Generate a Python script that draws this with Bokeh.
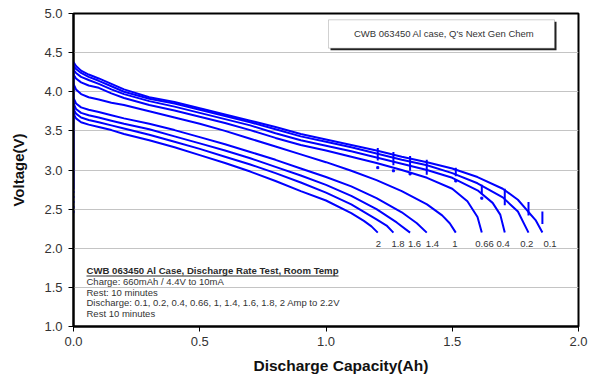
from bokeh.plotting import figure
from bokeh.models import (Range1d, FixedTicker, PrintfTickFormatter, Legend, LegendItem,
                          Label, BoxAnnotation, ColumnDataSource, Title)
from bokeh.core.properties import value
from bokeh.embed import file_html
from bokeh.resources import INLINE

# ---------------- data ----------------
rates = ["0.1", "0.2", "0.4", "0.66", "1", "1.4", "1.6", "1.8", "2"]

cap_01 = [0, 0.01, 0.03, 0.06, 0.1, 0.15, 0.2, 0.3, 0.4, 0.5, 0.6, 0.7, 0.8, 0.9, 1.0, 1.1, 1.2, 1.3, 1.4, 1.5, 1.6, 1.7, 1.76, 1.8, 1.83, 1.857]
volt_01 = [4.38, 4.33, 4.27, 4.22, 4.17, 4.10, 4.03, 3.93, 3.87, 3.79, 3.71, 3.63, 3.55, 3.46, 3.39, 3.32, 3.25, 3.17, 3.10, 3.02, 2.91, 2.76, 2.62, 2.47, 2.36, 2.20]

cap_02 = [0, 0.01, 0.03, 0.06, 0.1, 0.15, 0.2, 0.3, 0.4, 0.5, 0.6, 0.7, 0.8, 0.9, 1.0, 1.1, 1.2, 1.3, 1.4, 1.5, 1.6, 1.7, 1.76, 1.802]
volt_02 = [4.33, 4.29, 4.24, 4.19, 4.14, 4.07, 4.00, 3.91, 3.85, 3.77, 3.69, 3.61, 3.52, 3.43, 3.36, 3.29, 3.21, 3.13, 3.06, 2.96, 2.83, 2.65, 2.47, 2.20]

cap_04 = [0, 0.01, 0.03, 0.06, 0.1, 0.15, 0.2, 0.3, 0.4, 0.5, 0.6, 0.7, 0.8, 0.9, 1.0, 1.1, 1.2, 1.3, 1.4, 1.5, 1.6, 1.66, 1.69, 1.708]
volt_04 = [4.28, 4.24, 4.19, 4.15, 4.10, 4.03, 3.97, 3.88, 3.81, 3.73, 3.65, 3.57, 3.47, 3.38, 3.31, 3.24, 3.16, 3.08, 3.00, 2.90, 2.74, 2.58, 2.43, 2.20]

cap_066 = [0, 0.01, 0.03, 0.06, 0.1, 0.15, 0.2, 0.3, 0.4, 0.5, 0.6, 0.7, 0.8, 0.9, 1.0, 1.1, 1.2, 1.3, 1.4, 1.5, 1.56, 1.6, 1.617]
volt_066 = [4.22, 4.17, 4.12, 4.08, 4.05, 3.98, 3.92, 3.83, 3.76, 3.68, 3.60, 3.51, 3.41, 3.32, 3.25, 3.17, 3.09, 3.00, 2.90, 2.76, 2.60, 2.40, 2.20]

cap_1 = [0, 0.01, 0.03, 0.06, 0.1, 0.15, 0.2, 0.3, 0.4, 0.5, 0.6, 0.7, 0.8, 0.9, 1.0, 1.1, 1.2, 1.3, 1.4, 1.46, 1.49, 1.514]
volt_1 = [4.10, 4.03, 3.97, 3.93, 3.90, 3.86, 3.83, 3.75, 3.67, 3.59, 3.50, 3.40, 3.30, 3.20, 3.10, 2.99, 2.87, 2.73, 2.56, 2.42, 2.32, 2.20]

cap_14 = [0, 0.01, 0.03, 0.06, 0.1, 0.15, 0.2, 0.3, 0.4, 0.5, 0.6, 0.7, 0.8, 0.9, 1.0, 1.1, 1.2, 1.3, 1.36, 1.399]
volt_14 = [3.92, 3.85, 3.80, 3.77, 3.74, 3.70, 3.66, 3.59, 3.51, 3.42, 3.33, 3.23, 3.13, 3.02, 2.91, 2.79, 2.64, 2.46, 2.32, 2.20]

cap_16 = [0, 0.01, 0.03, 0.06, 0.1, 0.15, 0.2, 0.3, 0.4, 0.5, 0.6, 0.7, 0.8, 0.9, 1.0, 1.1, 1.2, 1.28, 1.333]
volt_16 = [3.85, 3.78, 3.73, 3.70, 3.67, 3.63, 3.59, 3.52, 3.43, 3.34, 3.25, 3.15, 3.04, 2.93, 2.81, 2.67, 2.50, 2.33, 2.20]

cap_18 = [0, 0.01, 0.03, 0.06, 0.1, 0.15, 0.2, 0.3, 0.4, 0.5, 0.6, 0.7, 0.8, 0.9, 1.0, 1.1, 1.2, 1.24, 1.267]
volt_18 = [3.78, 3.72, 3.67, 3.64, 3.61, 3.57, 3.53, 3.45, 3.36, 3.27, 3.17, 3.07, 2.96, 2.84, 2.71, 2.56, 2.37, 2.29, 2.20]

cap_2 = [0, 0.01, 0.03, 0.06, 0.1, 0.15, 0.2, 0.3, 0.4, 0.5, 0.6, 0.7, 0.8, 0.9, 1.0, 1.1, 1.15, 1.18, 1.205]
volt_2 = [3.72, 3.66, 3.61, 3.58, 3.55, 3.51, 3.46, 3.38, 3.29, 3.19, 3.09, 2.98, 2.86, 2.73, 2.61, 2.45, 2.35, 2.28, 2.20]

caps = [cap_01, cap_02, cap_04, cap_066, cap_1, cap_14, cap_16, cap_18, cap_2]
volts = [volt_01, volt_02, volt_04, volt_066, volt_1, volt_14, volt_16, volt_18, volt_2]

# end-of-discharge capacity and rest (recovery) voltage span
end_cap = [1.857, 1.802, 1.708, 1.617, 1.514, 1.399, 1.333, 1.267, 1.205]
rest_lo = [2.31, 2.42, 2.55, 2.69, 2.92, 2.94, 2.99, 3.06, 3.12]
rest_hi = [2.47, 2.59, 2.76, 2.81, 3.03, 3.13, 3.18, 3.23, 3.28]
dot_cap = [1.617, 1.514, 1.333, 1.267, 1.205]
dot_volt = [2.64, 2.86, 2.95, 2.99, 3.03]

# initial rest at zero capacity
start_cap = [0.0]
start_lo = [2.75]
start_hi = [4.38]

x_ticks = [0.0, 0.5, 1.0, 1.5, 2.0]
y_ticks = [1.0, 1.5, 2.0, 2.5, 3.0, 3.5, 4.0, 4.5, 5.0]

x_title = "Discharge Capacity(Ah)"
y_title = "Voltage(V)"
legend_label = "CWB 063450 Al case, Q's Next Gen Chem"
note_title = "CWB 063450 Al Case, Discharge Rate Test, Room Temp"
note_lines = ["Charge: 660mAh / 4.4V to 10mA",
              "Rest: 10 minutes",
              "Discharge: 0.1, 0.2, 0.4, 0.66, 1, 1.4, 1.6, 1.8, 2 Amp to 2.2V",
              "Rest 10 minutes"]

# ---------------- style ----------------
BLUE = "#0000ff"
FONT = "Liberation Sans"
TXT = "#333333"
rate_label_y = 2.055
rate_label_dx = [7.6, -1.7, -1.7, 2.7, -1.0, 5.7, 4.4, 4.6, 0.7]

p = figure(width=592, height=383, x_range=Range1d(0, 2), y_range=Range1d(1, 5),
           output_backend="svg", toolbar_location=None,
           min_border_left=73, min_border_right=14, min_border_top=13, min_border_bottom=57)
p.background_fill_color = "white"
p.border_fill_color = "white"
p.outline_line_color = "black"
p.outline_line_width = 2

p.xaxis.ticker = FixedTicker(ticks=x_ticks)
p.yaxis.ticker = FixedTicker(ticks=y_ticks)
p.xaxis.formatter = PrintfTickFormatter(format="%.1f")
p.yaxis.formatter = PrintfTickFormatter(format="%.1f")
for ax in (p.xaxis, p.yaxis):
    ax.axis_line_color = "black"
    ax.axis_line_width = 2
    ax.major_tick_in = 0
    ax.major_tick_out = 5
    ax.major_tick_line_color = "black"
    ax.major_tick_line_width = 1
    ax.minor_tick_line_color = None
    ax.major_label_text_font = FONT
    ax.major_label_text_font_size = "13px"
    ax.major_label_text_color = TXT
p.xaxis.major_label_standoff = 5
p.yaxis.major_label_standoff = 6

p.yaxis.axis_label = y_title
p.yaxis.axis_label_text_font = FONT
p.yaxis.axis_label_text_font_size = "15px"
p.yaxis.axis_label_text_font_style = "bold"
p.yaxis.axis_label_text_color = "#111111"
p.yaxis.axis_label_standoff = 14

# x title as a below-panel title, shifted right like the reference
p.add_layout(Title(text=x_title, align="left", offset=180, standoff=13,
                   text_font=FONT, text_font_size="15.5px", text_font_style="bold",
                   text_color="#111111"), "below")

p.xgrid.grid_line_color = None
p.ygrid.ticker = FixedTicker(ticks=y_ticks)
p.ygrid.grid_line_color = "#c4c4c4"
p.ygrid.grid_line_width = 1

# curves
for c, v in zip(caps, volts):
    p.line(c, v, line_color=BLUE, line_width=2)

# start rest line at zero capacity
p.segment(x0=start_cap, y0=start_lo, x1=start_cap, y1=start_hi, line_color=BLUE, line_width=2)
p.segment(x0=start_cap, y0=[2.45], x1=start_cap, y1=start_lo, line_color=BLUE, line_width=2, line_dash="2 3")

# rest recovery ticks
p.segment(x0=end_cap, y0=rest_lo, x1=end_cap, y1=rest_hi, line_color=BLUE, line_width=2)
p.scatter(dot_cap, dot_volt, size=2, color=BLUE, marker="square")

# rate labels
src = ColumnDataSource(dict(x=end_cap, y=[rate_label_y] * len(end_cap), t=rates, dx=rate_label_dx))
p.text(x="x", y="y", text="t", x_offset="dx", source=src, text_align="center", text_baseline="middle",
       text_font=value(FONT), text_font_size="9.5px", text_color=TXT)

# notes block (frame screen units: x from left, y from bottom)
p.add_layout(Label(x=13, y=56, x_units="screen", y_units="screen", text=note_title,
                   text_font=FONT, text_font_size="9.6px", text_font_style="bold",
                   text_color="#2a2a2a", text_baseline="middle"))
for i, t in enumerate(note_lines):
    p.add_layout(Label(x=13, y=45.2 - 10.8 * i, x_units="screen", y_units="screen", text=t,
                       text_font=FONT, text_font_size="9.5px", text_color=TXT,
                       text_baseline="middle"))
p.add_layout(BoxAnnotation(left=13, right=265, bottom=50.0, top=51.0,
                           left_units="screen", right_units="screen",
                           bottom_units="screen", top_units="screen",
                           fill_color="#2a2a2a", fill_alpha=1, line_color=None))

# legend box with shadow
p.add_layout(BoxAnnotation(left=257, right=483, bottom=276.3, top=304.7,
                           left_units="screen", right_units="screen",
                           bottom_units="screen", top_units="screen",
                           fill_color="#222222", fill_alpha=1, line_color=None))
p.add_layout(BoxAnnotation(left=255, right=481, bottom=278.3, top=306.7,
                           left_units="screen", right_units="screen",
                           bottom_units="screen", top_units="screen",
                           fill_color="white", fill_alpha=1, line_color="#666666", line_width=1))
r_leg = p.scatter(x=[], y=[], size=2.5, color=BLUE, marker="square")
legend = Legend(items=[LegendItem(label=legend_label, renderers=[r_leg])],
                location=(269, 286.5), padding=0, margin=0, spacing=0,
                glyph_width=12, glyph_height=12, label_height=12, label_standoff=0,
                label_text_font=FONT, label_text_font_size="9.5px", label_text_color=TXT,
                border_line_color=None, background_fill_alpha=0)
p.add_layout(legend)

open("out.html", "w").write(file_html(p, INLINE))
